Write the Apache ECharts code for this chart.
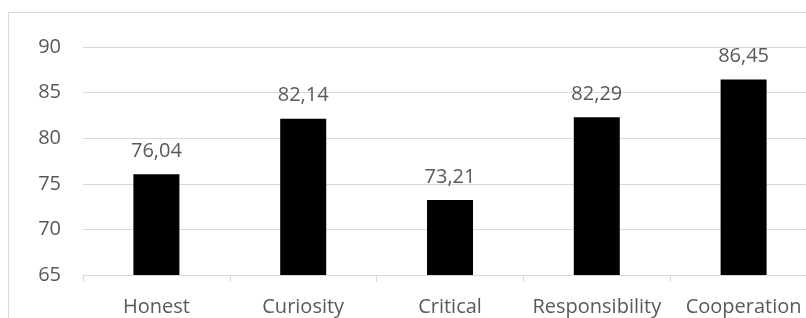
<!DOCTYPE html>
<html>
<head>
<meta charset="utf-8">
<script src="https://cdn.jsdelivr.net/npm/echarts@6/dist/echarts.min.js"></script>
<style>
  html, body { margin: 0; padding: 0; background: #fff; overflow: hidden; }
  /* the chart runs a little past the right edge of the window, as in the picture */
  #chart { width: 818px; height: 318px; }
</style>
</head>
<body>
<div id="chart"></div>
<script>
const categories = ['Honest', 'Curiosity', 'Critical', 'Responsibility', 'Cooperation'];
const scores = [76.04, 82.14, 73.21, 82.29, 86.45];
const y_min = 65, y_max = 90, y_step = 5;

let chart = echarts.init(document.getElementById('chart'));
const font = '"Open Sans", sans-serif';
const text_color = '#595959';
const line_color = '#d9d9d9';

chart.setOption({
    animation: false,
    backgroundColor: '#fff',
    // outer chart frame, cut off at the right and bottom like the picture
    graphic: [{
        type: 'rect',
        shape: { x: 8.5, y: 12.5, width: 900, height: 400 },
        style: { fill: 'none', stroke: line_color, lineWidth: 1 },
        silent: true
    }],
    grid: { left: 83, top: 47, right: 1, bottom: 43 },
    xAxis: {
        type: 'category',
        data: categories,
        axisLine: { lineStyle: { color: line_color, width: 1 } },
        axisTick: { show: true, length: 7, lineStyle: { color: line_color } },
        axisLabel: { interval: 0, color: text_color, fontFamily: font, fontSize: 20, margin: 22 }
    },
    yAxis: {
        type: 'value',
        min: y_min, max: y_max, interval: y_step,
        axisLine: { show: false },
        axisTick: { show: false },
        splitLine: { lineStyle: { color: line_color, width: 1 } },
        axisLabel: { color: text_color, fontFamily: font, fontSize: 20, margin: 22 }
    },
    series: [{
        type: 'bar',
        data: scores,
        barWidth: 46,
        itemStyle: { color: '#000' },
        label: {
            show: true,
            position: 'top',
            distance: 13,
            color: text_color,
            fontFamily: font,
            fontSize: 20,
            formatter: p => p.value.toFixed(2).replace('.', ',')
        }
    }]
});
</script>
</body>
</html>
